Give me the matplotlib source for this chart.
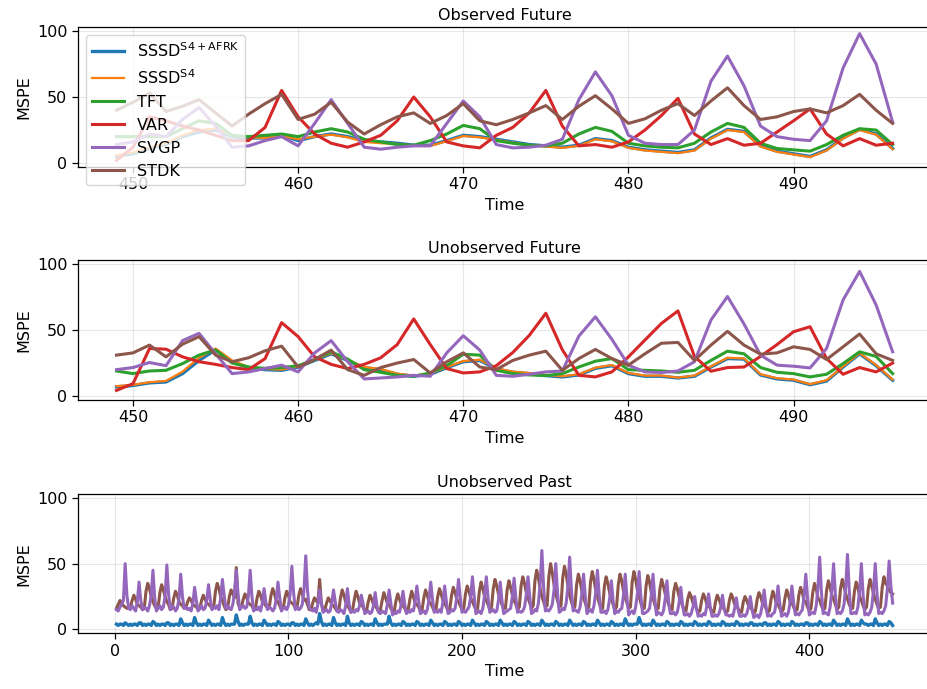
import numpy as np
import matplotlib.pyplot as plt

plt.rcParams['font.size'] = 11.5

# x positions
t_future = np.arange(449, 497)
t_past = np.arange(1, 449)

labels = [r"SSSD$^{\mathrm{S4+AFRK}}$", r"SSSD$^{\mathrm{S4}}$", "TFT", "VAR", "SVGP", "STDK"]
colors = ["tab:blue", "tab:orange", "tab:green", "tab:red", "tab:purple", "tab:brown"]
widths = [2.4, 1.6, 2.2, 2.2, 2.2, 2.2]

# ---- Observed Future ----
obs_sssd_afrk = [5, 7, 11, 14, 20, 23.5, 25, 20, 19, 19,
                 21, 17, 20, 22, 20, 17, 16, 15, 13.5, 13.5,
                 17, 21, 20, 18, 16, 14, 13, 12, 13.5, 18.5,
                 17, 12, 10, 9, 8, 10, 19, 25.5, 24, 13,
                 9, 7, 5, 10, 19, 25.5, 22, 11]
obs_sssd_s4 = [6, 8, 12, 15, 21, 25, 26, 21, 19.5, 19,
               20.5, 18, 20, 21.5, 19.5, 16, 15, 14.5, 13, 13,
               16.5, 20.5, 19.5, 17.5, 15.5, 13.5, 12.5, 11.5, 13, 18,
               16.5, 11.5, 9.5, 8.5, 7.5, 9.5, 18.5, 25, 23.5, 12.5,
               8.5, 6.5, 4.5, 9.5, 18.5, 25, 21.5, 10.5]
obs_tft = [20, 20, 20, 20, 26, 32, 30, 21, 20, 21,
           22, 20, 23.5, 26, 23.5, 18, 16, 14, 13.5, 17,
           22, 28.5, 26, 17, 15, 13.5, 13, 15, 22, 27,
           24, 15, 13, 12, 11.5, 15, 23.5, 30, 27, 15,
           11, 10, 9, 14, 21, 26, 25, 14]
obs_var = [2, 12, 35, 32, 28, 25, 21, 17, 17, 27,
           55, 35, 22, 15, 12, 16, 21, 32, 50, 35,
           16, 13, 11.5, 21, 27, 38, 55, 28, 13, 14,
           12, 16, 25, 36, 49, 22, 14, 18.5, 13.5, 15,
           23.5, 32, 41, 22, 13, 18.5, 13.5, 15]
obs_svgp = [14, 16, 22, 20, 33, 42, 28, 12, 13, 17,
            20, 13, 30, 48, 30, 12, 10.5, 12, 13, 13,
            30, 47, 35, 14, 11.5, 12, 13.5, 18, 48, 69,
            51, 21, 15, 14, 14, 25, 62, 81, 58.5, 28,
            20, 18, 17, 32, 72, 98, 75, 31]
obs_stdk = [40, 46, 53, 39, 43, 48, 38, 28, 37, 45,
            52, 33, 37, 46, 31, 22, 29, 35, 38, 30,
            36, 45, 32, 29, 33, 38, 43.5, 33, 43, 51,
            41, 30, 33.5, 40, 45, 36, 47, 57, 43.5, 33,
            35, 39, 41, 38, 43.5, 52, 40, 30]

# ---- Unobserved Future ----
unobs_sssd_afrk = [7, 8, 10, 10.7, 17, 27, 35, 26, 21.5, 20,
                   19.5, 22, 27, 32, 27, 21.5, 20, 16.5, 15, 16.5,
                   21.5, 26, 27, 20.5, 18, 17, 15.5, 14.5, 16, 21,
                   23, 17, 15, 15, 13.7, 15, 22, 28.4, 28, 16,
                   13, 12, 8.6, 11.4, 22, 32, 23, 12]
unobs_sssd_s4 = [7.5, 8.5, 10.5, 11.5, 18.5, 29, 36, 27, 22, 20.5,
                 20, 22.5, 27.5, 32.5, 27.5, 22, 20.5, 17, 15.5, 17,
                 22, 26.5, 27.5, 21, 18.5, 17.5, 16, 15, 16.5, 21.5,
                 23.5, 17.5, 15.5, 15.5, 14, 15.5, 22.5, 29, 28.5, 16.5,
                 13.5, 12.5, 9, 12, 22.5, 32.5, 23.5, 12.5]
unobs_tft = [19, 17, 19, 19.5, 24.6, 31, 35, 25, 22, 21,
             21.5, 23, 27.6, 33.5, 28, 20, 18, 15.7, 15, 17.5,
             23, 31.7, 31, 19.5, 17, 16, 15.5, 17, 22, 26.4,
             28.4, 20, 19.5, 19, 18, 19.5, 27, 34, 32, 21.6,
             18, 17, 14.5, 16.5, 24.6, 33.5, 30, 17]
unobs_var = [4.3, 9.4, 36, 35.5, 29.7, 26, 24, 21.6, 20, 28.4,
             55.6, 45, 29.7, 24, 20.8, 24, 29, 39, 58.4, 39,
             20.8, 17.5, 18.3, 23, 33, 46, 62.7, 35, 15.7, 14.5,
             18.3, 29.7, 42.4, 55, 64.5, 30, 18.8, 21.6, 22, 30,
             39, 48.7, 52.5, 28.4, 16.5, 21.6, 18.3, 25]
unobs_svgp = [20, 21.6, 25.4, 23, 42, 47.5, 32, 17, 18.3, 20.8,
              23.4, 18.3, 32.7, 42, 26, 13, 13.7, 14.5, 15.7, 15,
              32.7, 45.7, 34.8, 15.7, 15, 16.5, 18.3, 19, 45.4, 60,
              43, 23.4, 18.3, 17.8, 19, 26, 57.6, 75.4, 54.6, 31,
              23.4, 22.6, 21.3, 36, 72.8, 94.4, 69, 33.5]
unobs_stdk = [31, 32.7, 38.6, 29.7, 39.3, 45, 31, 26, 29, 34.3,
              37.8, 22, 27.7, 34.8, 20, 15.7, 21.6, 25, 27.7, 17.5,
              26, 32.7, 22, 20, 27, 31, 34, 19.5, 28.4, 35.3,
              28.4, 23.4, 32, 40, 40.6, 27, 38.6, 49, 38.6, 31.7,
              32.7, 37.3, 35.3, 27.7, 37.3, 47, 32, 27]

# ---- Unobserved Past (t = 1..448) ----
past_sssd_afrk = [
    4, 3, 4, 4, 3, 5, 4, 3,   4, 3, 4, 4, 3, 5, 5, 3,   4, 3, 4, 4, 3, 6, 5, 3,
    4, 3, 4, 4, 3, 5, 5, 3,   4, 3, 4, 4, 3, 8, 5, 3,   4, 3, 4, 4, 3, 9, 5, 3,
    4, 3, 4, 4, 3, 7, 5, 3,   4, 3, 4, 4, 3, 9, 5, 3,   4, 3, 4, 4, 4, 11, 6, 3,
    4, 3, 4, 4, 4, 10, 5, 3,  4, 3, 4, 4, 3, 7, 5, 3,   4, 3, 4, 4, 3, 6, 5, 3,
    4, 3, 4, 4, 3, 5, 5, 3,   4, 3, 4, 4, 3, 8, 5, 3,   4, 3, 4, 5, 4, 12, 6, 3,
    4, 3, 4, 4, 3, 9, 5, 3,   4, 3, 4, 4, 3, 10, 5, 3,  4, 3, 4, 4, 3, 6, 5, 3,
    4, 3, 4, 4, 3, 8, 5, 3,   4, 3, 4, 4, 4, 10, 5, 3,  4, 3, 4, 4, 3, 6, 5, 3,
    4, 3, 4, 4, 3, 6, 5, 3,   4, 3, 4, 4, 3, 7, 5, 3,   4, 3, 4, 4, 3, 6, 5, 3,
    4, 3, 4, 4, 3, 6, 5, 3,   4, 3, 4, 4, 3, 7, 5, 3,   4, 3, 4, 4, 3, 6, 5, 3,
    4, 3, 4, 4, 3, 7, 5, 3,   4, 3, 4, 4, 3, 6, 5, 3,   4, 3, 4, 4, 3, 6, 5, 3,
    4, 3, 4, 4, 3, 7, 5, 3,   4, 3, 4, 4, 3, 6, 5, 3,   4, 3, 4, 4, 3, 7, 5, 3,
    4, 3, 4, 4, 3, 6, 5, 3,   4, 3, 4, 4, 3, 7, 5, 3,   4, 3, 4, 4, 3, 6, 5, 3,
    4, 3, 4, 4, 3, 8, 5, 3,   4, 3, 4, 4, 4, 9, 5, 3,   4, 3, 4, 4, 3, 7, 5, 3,
    4, 3, 4, 4, 3, 6, 5, 3,   4, 3, 4, 4, 3, 6, 5, 3,   4, 3, 4, 4, 3, 6, 5, 3,
    4, 3, 4, 4, 3, 6, 5, 3,   4, 3, 4, 4, 3, 6, 5, 3,   4, 3, 4, 4, 3, 6, 5, 3,
    4, 3, 4, 4, 3, 5, 5, 3,   4, 3, 4, 4, 3, 5, 5, 3,   4, 3, 4, 4, 3, 6, 5, 3,
    4, 3, 4, 4, 3, 6, 5, 3,   4, 3, 4, 4, 3, 5, 5, 3,   4, 3, 4, 4, 3, 6, 5, 3,
    4, 3, 4, 4, 3, 7, 5, 3,   4, 3, 4, 4, 3, 8, 5, 3,   4, 3, 4, 4, 3, 7, 5, 4,
    4, 3, 4, 4, 3, 8, 5, 3,   4, 3, 4, 4, 3, 6, 5, 3,
]
past_svgp = [
    15, 14, 17, 19, 22, 50, 26, 16,   15, 18, 16, 14, 21, 36, 22, 15,
    17, 16, 14, 18, 26, 45, 24, 14,   16, 18, 15, 17, 25, 49, 27, 15,
    18, 17, 14, 16, 23, 42, 25, 16,   17, 15, 16, 14, 20, 32, 22, 14,
    16, 18, 15, 16, 22, 34, 23, 15,   17, 16, 18, 15, 24, 38, 26, 16,
    18, 16, 15, 19, 28, 45, 27, 15,   17, 18, 16, 17, 26, 45, 25, 14,
    16, 15, 17, 14, 20, 31, 21, 15,   17, 16, 14, 16, 23, 36, 24, 14,
    16, 17, 15, 18, 27, 48, 28, 15,   17, 15, 16, 19, 30, 56, 30, 16,
    15, 14, 16, 13, 19, 30, 20, 13,   14, 15, 13, 14, 20, 30, 21, 14,
    13, 15, 14, 12, 18, 31, 19, 13,   14, 13, 15, 14, 18, 26, 20, 12,
    13, 14, 12, 13, 18, 28, 18, 13,   12, 14, 13, 12, 19, 30, 20, 11,
    13, 12, 14, 13, 19, 29, 19, 12,   14, 13, 15, 14, 21, 33, 22, 12,
    13, 14, 12, 15, 23, 36, 23, 13,   14, 13, 15, 13, 21, 33, 21, 12,
    13, 15, 14, 16, 24, 38, 24, 13,   14, 13, 15, 17, 25, 40, 25, 12,
    13, 14, 12, 16, 26, 40, 24, 13,   14, 15, 13, 14, 22, 36, 22, 12,
    13, 14, 15, 16, 25, 39, 24, 13,   14, 13, 14, 17, 26, 40, 25, 12,
    13, 15, 14, 20, 35, 60, 32, 14,   15, 14, 16, 19, 30, 50, 28, 13,
    14, 16, 15, 20, 33, 55, 30, 14,   15, 14, 13, 17, 27, 42, 25, 12,
    14, 15, 13, 18, 28, 45, 26, 13,   13, 14, 12, 15, 23, 37, 22, 12,
    14, 13, 15, 16, 26, 42, 24, 11,   13, 14, 12, 17, 27, 44, 25, 12,
    12, 13, 14, 16, 26, 42, 24, 11,   13, 12, 11, 14, 23, 37, 21, 12,
    12, 13, 11, 13, 20, 32, 19, 11,   11, 12, 10, 12, 17, 25, 16, 10,
    11, 10, 12, 11, 18, 27, 17, 10,   10, 11, 10, 12, 17, 26, 16, 11,
    11, 10, 11, 10, 16, 24, 15, 10,   10, 11, 10, 12, 17, 25, 16, 9,
    10, 11, 9, 12, 19, 30, 18, 10,    11, 10, 12, 13, 21, 33, 20, 10,
    11, 12, 10, 13, 21, 33, 20, 11,   12, 11, 13, 15, 25, 42, 24, 11,
    12, 13, 12, 18, 32, 55, 28, 12,   13, 12, 11, 17, 30, 50, 27, 12,
    13, 12, 14, 19, 33, 57, 30, 12,   12, 13, 12, 17, 30, 50, 26, 11,
    12, 11, 13, 17, 30, 50, 27, 12,   13, 12, 14, 18, 31, 52, 33, 20,
]
past_stdk = [
    16, 19, 22, 20, 18, 17, 16, 16,   17, 22, 26, 23, 19, 18, 17, 15,
    16, 29, 35, 31, 25, 21, 18, 16,   17, 28, 34, 30, 25, 21, 19, 15,
    16, 24, 29, 26, 21, 19, 18, 16,   17, 21, 24, 22, 19, 18, 17, 15,
    16, 22, 26, 23, 20, 19, 18, 16,   17, 29, 35, 31, 25, 22, 18, 15,
    16, 25, 30, 27, 24, 47, 20, 16,   17, 23, 27, 24, 20, 19, 18, 15,
    16, 24, 29, 26, 21, 20, 18, 16,   17, 26, 31, 27, 22, 21, 18, 15,
    16, 24, 29, 26, 21, 20, 19, 16,   17, 26, 31, 27, 22, 23, 19, 15,
    15, 20, 24, 22, 20, 38, 20, 14,   15, 20, 24, 22, 19, 18, 16, 14,
    14, 24, 30, 26, 21, 18, 16, 13,   15, 23, 29, 25, 20, 19, 17, 14,
    14, 21, 26, 23, 19, 18, 16, 13,   15, 22, 28, 24, 20, 19, 16, 14,
    14, 22, 27, 23, 19, 18, 16, 13,   15, 23, 29, 25, 20, 19, 17, 14,
    15, 24, 30, 26, 21, 20, 17, 14,   15, 25, 31, 27, 22, 20, 17, 14,
    16, 26, 32, 28, 23, 21, 18, 15,   16, 27, 33, 29, 24, 21, 18, 15,
    16, 29, 36, 31, 25, 22, 19, 15,   17, 31, 38, 33, 27, 23, 19, 16,
    16, 30, 37, 32, 26, 22, 19, 15,   17, 33, 40, 35, 28, 24, 20, 16,
    18, 37, 45, 39, 31, 25, 21, 17,   18, 40, 50, 43, 34, 27, 22, 17,
    18, 39, 48, 42, 33, 26, 21, 17,   17, 34, 42, 37, 29, 24, 20, 16,
    17, 36, 44, 38, 30, 25, 20, 16,   16, 33, 40, 35, 28, 23, 19, 15,
    17, 34, 42, 37, 29, 24, 20, 16,   17, 36, 44, 38, 30, 25, 20, 16,
    16, 33, 41, 36, 28, 24, 19, 15,   16, 31, 38, 33, 27, 23, 19, 15,
    15, 29, 35, 31, 25, 22, 18, 14,   14, 23, 28, 25, 20, 19, 16, 13,
    14, 22, 27, 24, 19, 18, 16, 13,   13, 21, 26, 23, 19, 18, 15, 13,
    14, 22, 27, 24, 19, 18, 16, 13,   13, 21, 25, 22, 18, 17, 15, 12,
    14, 23, 28, 25, 20, 19, 16, 13,   14, 23, 29, 25, 20, 19, 16, 13,
    15, 24, 30, 26, 21, 20, 17, 14,   15, 26, 32, 28, 22, 21, 17, 14,
    16, 28, 35, 31, 24, 22, 18, 15,   16, 30, 37, 32, 26, 23, 19, 15,
    17, 31, 38, 33, 27, 23, 19, 16,   16, 29, 36, 32, 25, 22, 18, 15,
    17, 31, 38, 33, 27, 23, 19, 16,   17, 32, 40, 35, 33, 30, 28, 27,
]

fig = plt.figure(figsize=(9.28, 6.89), dpi=100)
left, ax_w = 0.0837, 0.92
axes = [fig.add_axes([left, 0.7576, ax_w, 0.2032]),
        fig.add_axes([left, 0.4194, ax_w, 0.2032]),
        fig.add_axes([left, 0.0808, ax_w, 0.2022])]

obs = [obs_sssd_afrk, obs_sssd_s4, obs_tft, obs_var, obs_svgp, obs_stdk]
unobs = [unobs_sssd_afrk, unobs_sssd_s4, unobs_tft, unobs_var, unobs_svgp, unobs_stdk]

for ax, data, title in [(axes[0], obs, "Observed Future"), (axes[1], unobs, "Unobserved Future")]:
    for vals, lab, c, lw in zip(data, labels, colors, widths):
        ax.plot(t_future, vals, color=c, lw=lw, label=lab)
    ax.set_title(title, fontsize=11.5, pad=5)

ax = axes[2]
ax.plot(t_past, past_sssd_afrk, color="tab:blue", lw=2.4)
ax.plot(t_past, past_stdk, color="tab:brown", lw=2.2)
ax.plot(t_past, past_svgp, color="tab:purple", lw=2.2)
ax.set_title("Unobserved Past", fontsize=11.5, pad=5)

for ax in axes:
    ax.set_ylim(-3, 103)
    ax.set_yticks([0, 50, 100])
    ax.set_xlabel("Time")
    ax.set_ylabel("MSPE")
    ax.grid(True, alpha=0.3)
    ax.tick_params(length=4, width=0.9)
    for s in ax.spines.values():
        s.set_linewidth(0.9)
    # the right edge of each panel sits just past the canvas edge
    ax.spines["right"].set_visible(False)

axes[0].legend(loc="upper left", fontsize=11.5)

fig.savefig("out.png", dpi=100)
